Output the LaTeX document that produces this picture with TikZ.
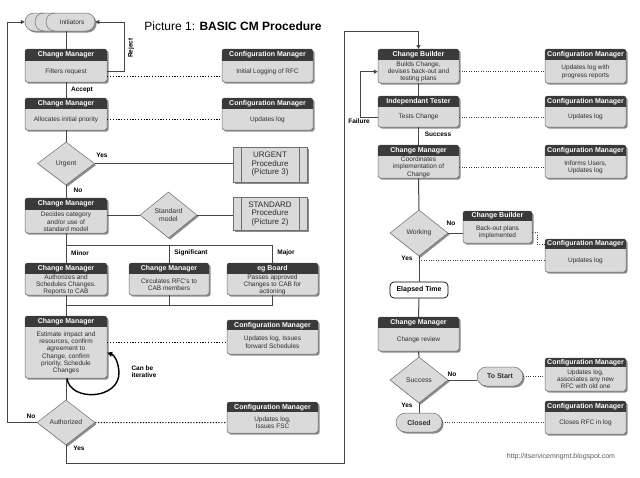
\documentclass[tikz,border=0pt]{standalone}
\usepackage{fontspec}
\setmainfont{Liberation Sans}
\usetikzlibrary{shapes.geometric,shapes.misc,arrows.meta,shadows}
\definecolor{bodyc}{RGB}{218,218,218}
\definecolor{hdrc}{RGB}{58,58,58}
\definecolor{edgec}{RGB}{110,110,110}
\definecolor{shadc}{RGB}{140,140,140}
\definecolor{linec}{RGB}{70,70,70}
\definecolor{txtc}{RGB}{45,45,45}
\definecolor{urlc}{RGB}{90,90,90}
\tikzset{
  hdrtext/.style={inner sep=0pt, text=white, font=\fontsize{7}{8}\selectfont\bfseries},
  bodytext/.style={inner sep=0pt, align=center, text=txtc, font=\fontsize{6.5}{7.3}\selectfont},
  conn/.style={draw=linec, line width=1pt},
  arr/.style={conn, -{Triangle[length=4pt,width=4pt]}},
  dots/.style={draw=black, line width=1pt, dash pattern=on 1.2pt off 1.6pt},
  dotsr/.style={draw=black!75, line width=0.8pt, dash pattern=on 1pt off 1.4pt},
  lbl/.style={inner sep=0pt, font=\fontsize{6.5}{7.5}\selectfont\bfseries},
  shadowed/.style={drop shadow={shadow xshift=1.6pt, shadow yshift=-1.6pt, fill=shadc, opacity=1}},
  dia/.style={diamond, fill=bodyc, draw=edgec, line width=0.5pt, inner sep=0pt, shadowed, text=txtc, font=\fontsize{6.8}{7.6}\selectfont, align=center},
  pill/.style={rounded rectangle, fill=bodyc, draw=edgec, line width=0.5pt, inner sep=0pt, shadowed, font=\fontsize{7}{8}\selectfont\bfseries, text=txtc},
  proc/.style={rectangle, fill=bodyc, draw=edgec, line width=0.5pt, inner sep=0pt, shadowed, align=center, font=\fontsize{8}{8.5}\selectfont, text=txtc,
    path picture={\draw[edgec, line width=0.5pt] ([xshift=8pt]path picture bounding box.north west) -- ([xshift=8pt]path picture bounding box.south west) ([xshift=-8pt]path picture bounding box.north east) -- ([xshift=-8pt]path picture bounding box.south east);}},
}
% #1 name, #2 cx, #3 width, #4 top, #5 header bottom, #6 bottom, #7 header, #8 body
\newcommand\rolebox[8]{%
  \fill[shadc, rounded corners=2.5pt] ({#2-#3/2+1.6},{#4+1.6}) rectangle ({#2+#3/2+1.6},{#6+1.6});
  \path[fill=bodyc, draw=edgec, line width=0.5pt, rounded corners=2.5pt] ({#2-#3/2},#4) rectangle ({#2+#3/2},#6);
  \begin{scope}
    \clip[rounded corners=2.5pt] ({#2-#3/2},#4) rectangle ({#2+#3/2},#6);
    \fill[hdrc] ({#2-#3/2},#4) rectangle ({#2+#3/2},#5);
  \end{scope}
  \node[hdrtext, minimum width=#3, minimum height={#5-#4}, anchor=north] (#1h) at (#2,#4) {#7};
  \node[bodytext, minimum width=#3, minimum height={#6-#5}, anchor=north] (#1) at (#2,#5) {#8};
}
\begin{document}
\begin{tikzpicture}[x=1pt,y=-1pt]
\useasboundingbox[fill=white] (0,0) rectangle (640,477);

% title
\node[font=\fontsize{12}{14}\selectfont, inner sep=0pt] (title) at (233,26) {Picture 1: \textbf{BASIC CM Procedure}};

% initiators
\node[pill, minimum width=70pt, minimum height=18pt] (init) at (60,22) {};
\draw[edgec, line width=0.5pt] (44,13) .. controls (32,13) and (32,31) .. (44,31);
\draw[edgec, line width=0.5pt] (55,13) .. controls (43,13) and (43,31) .. (55,31);
\node[inner sep=0pt, text=txtc, font=\fontsize{6.5}{7}\selectfont] (initt) at (72,22) {Initiators};

% left column boxes
\rolebox{cmA}{66}{82}{49}{61}{82}{Change Manager}{Filters request}
\rolebox{cfgA}{267.5}{91}{49}{61}{82}{Configuration Manager}{Initial Logging of RFC}
\rolebox{cmB}{66}{82}{98}{109}{130}{Change Manager}{Allocates initial priority}
\rolebox{cfgB}{267.5}{91}{98}{109}{130}{Configuration Manager}{Updates log}
\rolebox{cmC}{66}{82}{198}{210}{233}{Change Manager}{Decides category\\and/or use of\\standard model}
\rolebox{minr}{66}{82}{263}{274}{295}{Change Manager}{Authorizes and\\Schedules Changes.\\Reports to CAB}
\rolebox{sigf}{169}{80}{263}{274}{295}{Change Manager}{Circulates RFC's to\\CAB members}
\rolebox{majr}{272.5}{91}{263}{274}{295}{eg Board}{Passes approved\\Changes to CAB for\\actioning}
\rolebox{cmD}{66}{82}{316}{327}{378}{Change Manager}{Estimate impact and\\resources, confirm\\agreement to\\Change, confirm\\priority, Schedule\\Changes}
\rolebox{cfgD}{272.5}{91}{320}{330}{354}{Configuration Manager}{Updates log, Issues\\forward Schedules}
\rolebox{cfgE}{272.5}{91}{402}{412}{433}{Configuration Manager}{Updates log,\\Issues FSC}

\node[dia, minimum width=57pt, minimum height=43pt] (urg) at (66,163.5) {Urgent};
\node[dia, minimum width=57pt, minimum height=46pt] (std) at (168.5,215) {Standard\\model};
\node[dia, minimum width=58pt, minimum height=45pt] (auth) at (66,422.5) {Authorized};
\node[proc, minimum width=74pt, minimum height=35pt] (urgp) at (270,164.5) {URGENT\\Procedure\\(Picture 3)};
\node[proc, minimum width=74pt, minimum height=33pt] (stdp) at (270,214) {STANDARD\\Procedure\\(Picture 2)};

% right column boxes
\rolebox{cbA}{418.5}{81}{49}{60}{83}{Change Builder}{Builds Change,\\devises back-out and\\testing plans}
\rolebox{cfgF}{585.5}{81}{49}{60}{83}{Configuration Manager}{Updates log with\\progress reports}
\rolebox{itA}{418.5}{81}{96}{107}{127}{Independant Tester}{Tests Change}
\rolebox{cfgG}{585.5}{81}{96}{107}{127}{Configuration Manager}{Updates log}
\rolebox{cmE}{418.5}{81}{145}{156}{178}{Change Manager}{Coordinates\\implementation of\\Change}
\rolebox{cfgH}{585.5}{81}{145}{156}{178}{Configuration Manager}{Informs Users,\\Updates log}
\rolebox{cbB}{497.5}{69}{211}{221}{243}{Change Builder}{Back-out plans\\implemented}
\rolebox{cfgI}{585.5}{81}{239}{249}{272}{Configuration Manager}{Updates log}
\rolebox{cmF}{418.5}{81}{317}{328}{351}{Change Manager}{Change review}
\rolebox{cfgJ}{585.5}{81}{358}{367}{391}{Configuration Manager}{Updates log,\\associates any new\\RFC with old one}
\rolebox{cfgK}{585.5}{81}{401}{412}{434}{Configuration Manager}{Closes RFC in log}

\node[dia, minimum width=58pt, minimum height=46pt] (work) at (419,233) {Working};
\node[dia, minimum width=58pt, minimum height=46pt] (succ) at (419,380) {Success};
\node[draw=black, fill=white, rounded corners=4pt, line width=0.7pt, minimum width=58pt, minimum height=16pt, inner sep=0pt, font=\fontsize{7}{8}\selectfont\bfseries] (elapsed) at (419,290) {Elapsed Time};
\node[pill, minimum width=46pt, minimum height=19pt] (tostart) at (500,376.5) {To Start};
\node[pill, minimum width=46pt, minimum height=19pt] (closed) at (419,422.5) {Closed};

% coordinates for bends
\coordinate (rejx) at (124,0);
\coordinate (lx) at (7,0);
\coordinate (sa) at (66,245);
\coordinate (sb) at (66,305);
\coordinate (bl) at (344,463);
\coordinate (tl) at (344,31);
\coordinate (fx) at (360,0);
\coordinate (dx) at (537,0);

% left connectors
\draw[conn] (init.south -| cmAh.north) -- (cmAh.north);
\draw[arr] (cmA.east) -- (cmA.east -| rejx) |- (init.east);
\node[lbl, rotate=90] (rej) at (131,48) {Reject};
\draw[conn] (cmA.south) -- (cmBh.north);
\node[lbl] (acc) at (82,90) {Accept};
\draw[conn] (cmB.south) -- (urg.north);
\draw[conn] (urg.east) -- (urg.east -| urgp.west);
\node[lbl] (yes1) at (102,155) {Yes};
\draw[conn] (urg.south) -- (cmCh.north);
\node[lbl] (no1) at (78,190) {No};
\draw[conn] (cmC.east |- std.west) -- (std.west);
\draw[conn] (std.east) -- (std.east -| stdp.west);
\draw[conn] (cmC.south) -- (minrh.north);
\draw[conn] (sa) -| (sigfh.north);
\draw[conn] (sa) -| (majrh.north);
\node[lbl] (lminor) at (80,253) {Minor};
\node[lbl] (lsig) at (191,253) {Significant};
\node[lbl] (lmaj) at (286,253) {Major};
\draw[conn] (minr.south) -- (cmDh.north);
\draw[conn] (sigf.south) |- (sb);
\draw[conn] (majr.south) |- (sb);
\draw[black, line width=1.4pt, -{Triangle[length=5pt,width=5pt]}] ([xshift=1pt]cmD.south) .. controls (70,402) and (120,400) .. (119,372) .. controls (118,360) and (114,355) .. (cmD.east);
\node[lbl, align=left] (iter) at (144,371.5) {Can be\\iterative};
\draw[conn] (cmD.south) -- (auth.north);
\draw[arr] (auth.west) -| (lx |- init.west) -- (init.west);
\node[lbl] (no2) at (31,416) {No};
\node[lbl] (yes2) at (79,448) {Yes};
\draw[arr] (auth.south) |- (bl) -- (tl) -| (cbAh.north);

% dotted links left
\draw[dots] ([yshift=-5pt]cmA.east) -- ([yshift=-5pt]cfgA.west);
\draw[dots] (cmB.east) -- (cfgB.west);
\draw[dots] (cmD.east |- cfgD.west) -- (cfgD.west);
\draw[dots] (auth.east) -- (cfgE.west);

% right connectors
\draw[conn] (cbA.south) -- (itAh.north);
\draw[arr] (itA.west) -- (itA.west -| fx) |- (cbA.west);
\node[lbl] (fail) at (359,121) {Failure};
\draw[conn] (itA.south) -- (cmEh.north);
\node[lbl] (lsucc) at (438,134) {Success};
\draw[conn] (cmE.south) -- (work.north);
\draw[conn] (work.east) -- (work.east -| cbB.west);
\node[lbl] (no3) at (451,223) {No};
\node[lbl] (yes3) at (407,258) {Yes};
\draw[conn] (work.south) -- (elapsed.north);
\draw[conn] (elapsed.south) -- (cmFh.north);
\draw[conn] (cmF.south) -- (succ.north);
\draw[conn] (succ.east) -- (succ.east -| tostart.west);
\node[lbl] (no4) at (452,374) {No};
\draw[conn] (succ.south) -- (closed.north);
\node[lbl] (yes4) at (407,405) {Yes};

% dotted links right
\draw[dotsr] (cbA.east) -- (cfgF.west);
\draw[dotsr] (itA.east) -- (cfgG.west);
\draw[dotsr] (cmE.east) -- (cfgH.west);
\draw[dotsr] (cbB.east) -- (cbB.east -| dx) |- (cfgIh.west);
\draw[dotsr] (work.south |- cfgI.west) -- (cfgI.west);
\draw[dotsr] (tostart.east) -- (tostart.east -| cfgJ.west);
\draw[dotsr] (closed.east) -- (closed.east -| cfgK.west);

\node[inner sep=0pt, text=urlc, font=\fontsize{7}{8}\selectfont] (url) at (561,457) {http://itservicemngmt.blogspot.com};
\end{tikzpicture}
\end{document}
